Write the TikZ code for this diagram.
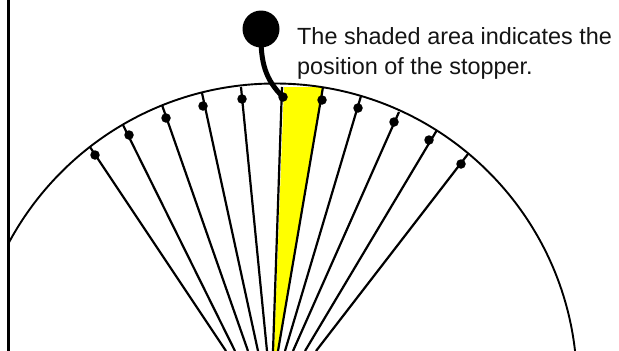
\documentclass[tikz,border=0pt]{standalone}
\usepackage{fontspec}
\setmainfont{Liberation Sans}
\definecolor{stopfill}{RGB}{255,255,0}
\tikzset{
  spoke/.style={draw=black,line width=2.2pt},
  rimline/.style={draw=black,line width=1.9pt},
  pin/.style={circle,fill=black,inner sep=0pt,minimum size=9.5pt},
  knob/.style={circle,fill=black,inner sep=0pt,minimum size=37pt},
  tail/.style={draw=black,line width=5pt},
  caption/.style={anchor=base west,inner sep=0pt,font=\fontsize{23.4}{28}\selectfont,text=black!92}
}
\begin{document}
\begin{tikzpicture}[x=1pt,y=-1pt]
\useasboundingbox (0,0) rectangle (619,351);
\fill[white] (0,0) rectangle (619,351);
\fill[stopfill] (284,87) -- (323,87) -- (278,351) -- (274,351) -- cycle;
\begin{scope}
\clip (9,0) rectangle (619,351);
\draw[rimline] (275,385.5) circle[radius=302];
\foreach \n/\rx/\ry/\dx/\dy/\bx in {
  a/90/147/95/155/226, b/123/125/129/135/235, c/162/105/166/118/248,
  d/202/93/203/106/258, e/241/87/242/99/267, f/282/87/283/97/273,
  g/323/87/322/100/278, h/361/96/358/108/285, i/399/112/394/122/293,
  j/437/130/429/140/305, k/468/154/461/164/316}{
  \coordinate (rim\n) at (\rx,\ry);
  \coordinate (foot\n) at (\bx,351);
  \node[pin] (pin\n) at (\dx,\dy) {};
  \path[spoke] (foot\n) -- (rim\n);
}
\end{scope}
\draw[draw=black,line width=2.6pt] (8.5,0) -- (8.5,351);
\node[knob] (ball) at (261,29) {};
\path[tail] (ball.center) .. controls (260,64) and (266,80) .. (pinf.center);
\node[caption] (t1) at (297,44) {The shaded area indicates the};
\node[caption] (t2) at (297,74) {position of the stopper.};
\end{tikzpicture}
\end{document}
